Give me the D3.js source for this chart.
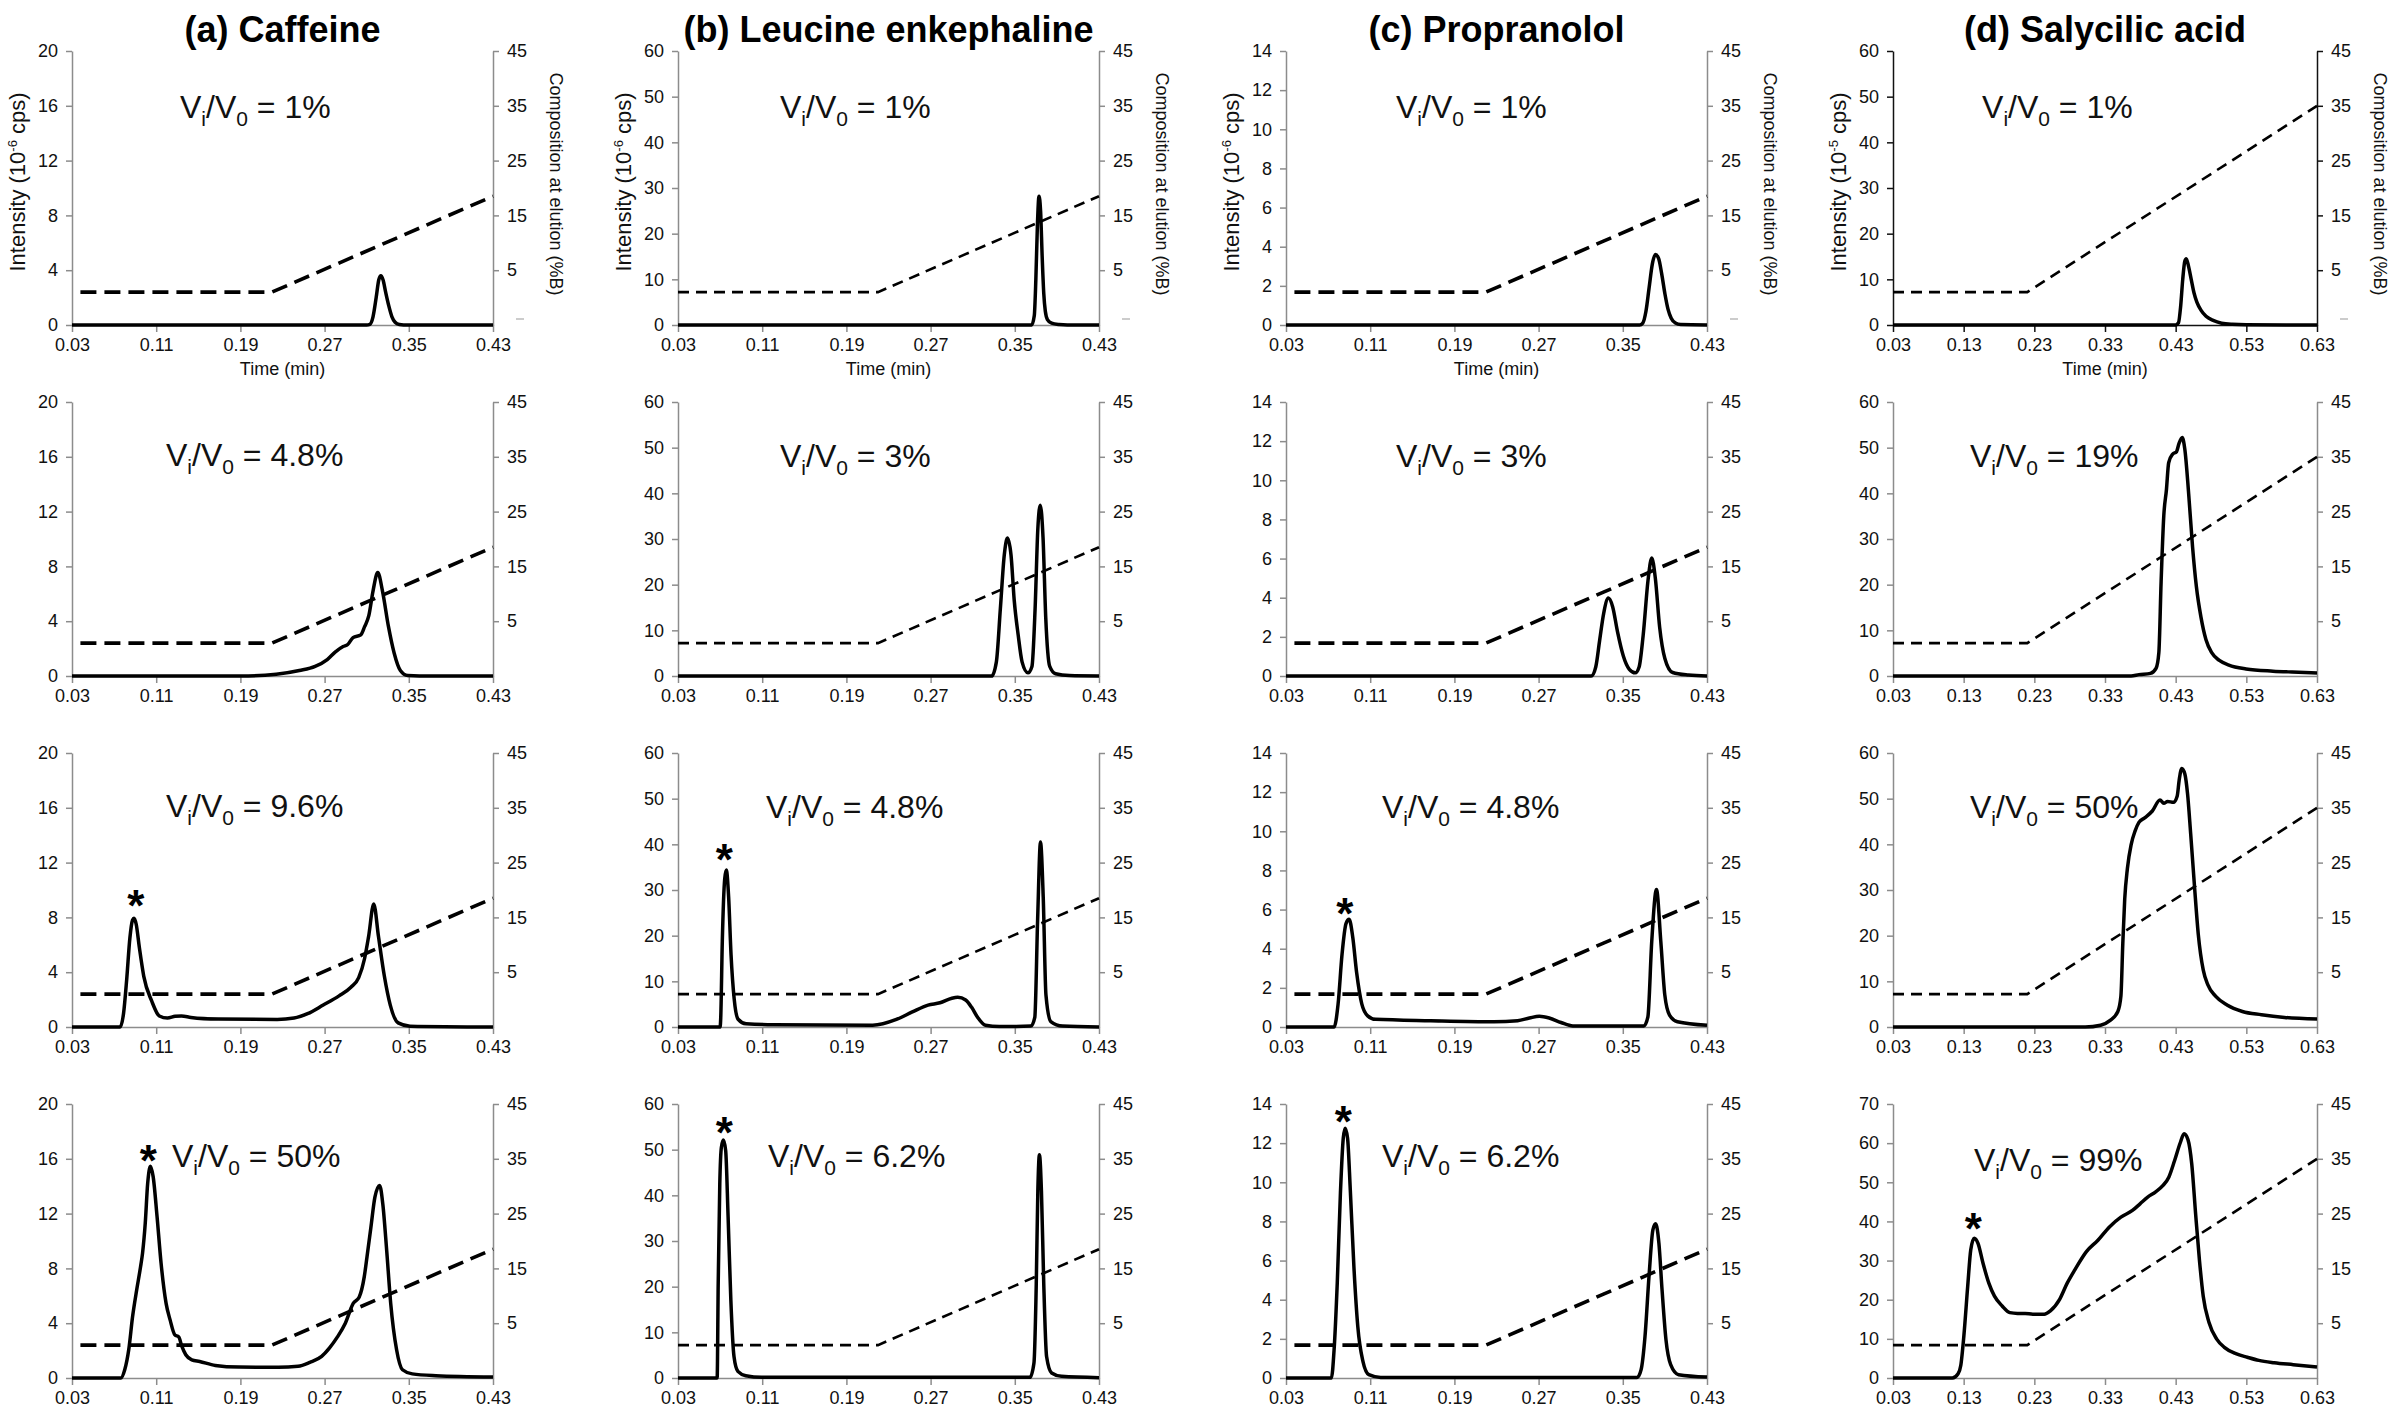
<!DOCTYPE html>
<html>
<head>
<meta charset="utf-8">
<script src="https://cdn.jsdelivr.net/npm/d3@7"></script>
<style>
body { margin: 0; background: #fff; }
svg { display: block; font-family: "Liberation Sans", Arial, sans-serif; }
.axis text { font-size: 18px; fill: #111; }
.axis line, .axis path { stroke: #8c8c8c; stroke-width: 1.5; }
.axis.dark line, .axis.dark path { stroke: #111; }
</style>
</head>
<body>
<svg id="chart" width="2400" height="1411"></svg>
<script>
// ticks
const timeTicks = [0.03, 0.11, 0.19, 0.27, 0.35, 0.43];
const timeTicksSal = [0.03, 0.13, 0.23, 0.33, 0.43, 0.53, 0.63];
const compositionTicks = [5, 15, 25, 35, 45];
const caffeineTicks = [0, 4, 8, 12, 16, 20];
const leucineTicks = [0, 10, 20, 30, 40, 50, 60];
const propranololTicks = [0, 2, 4, 6, 8, 10, 12, 14];
const salicylicTicks = [0, 10, 20, 30, 40, 50, 60];
const salicylicTicks99 = [0, 10, 20, 30, 40, 50, 60, 70];

const titles = ["(a) Caffeine", "(b) Leucine enkephaline", "(c) Propranolol", "(d) Salycilic acid"];
const unitExponent = ["-6", "-6", "-6", "-5"];

// Vi/V0 values
const ratioCaffeine = ["1%", "4.8%", "9.6%", "50%"];
const ratioLeucine = ["1%", "3%", "4.8%", "6.2%"];
const ratioPropranolol = ["1%", "3%", "4.8%", "6.2%"];
const ratioSalicylic = ["1%", "19%", "50%", "99%"];

// where the Vi/V0 text sits (time, intensity)
const ratioAtCaffeine = [[0.1326, 15.1], [0.1193, 15.3], [0.1193, 15.3], [0.125, 15.4]];
const ratioAtLeucine = [[0.1269, 45.3], [0.1269, 45.8], [0.1136, 45.8], [0.1155, 46.2]];
const ratioAtPropranolol = [[0.1345, 10.6], [0.1345, 10.7], [0.1212, 10.7], [0.1212, 10.8]];
const ratioAtSalicylic = [[0.156, 45.3], [0.139, 45.8], [0.139, 45.8], [0.1446, 53]];

// the * over the injection peak
const starCaffeine = [null, null, [0.0907, 9.56], [0.1026, 16.6]];
const starLeucine = [null, null, [0.074, 38.8], [0.0739, 55.8]];
const starPropranolol = [null, null, [0.0859, 6.3], [0.0844, 13.6]];
const starSalicylic = [null, null, null, [0.1438, 40.7]];

// gradient composition (%B)
const gradientCaffeine = [[0.038, 1], [0.22, 1], [0.43, 18.5]];
const gradientLeucine = [[0.03, 1], [0.22, 1], [0.43, 18.5]];
const gradientPropranolol = [[0.038, 1], [0.22, 1], [0.43, 18.5]];
const gradientSalicylic = [[0.03, 1], [0.22, 1], [0.63, 35]];

// chromatograms [time, intensity]
const caffeine1 = [[0.03,0],[0.31,0],[0.313,0.05],[0.316,0.6],[0.319,2.0],[0.3215,3.3],[0.3235,3.6],[0.3255,3.3],[0.328,2.4],[0.331,1.4],[0.334,0.6],[0.337,0.2],[0.341,0.03],[0.345,0],[0.43,0]];
const caffeine2 = [[0.03,0],[0.19,0],[0.224,0.13],[0.246,0.4],[0.261,0.7],[0.2725,1.2],[0.28,1.75],[0.2876,2.15],[0.292,2.3],[0.297,2.8],[0.3044,3.0],[0.308,3.6],[0.312,4.4],[0.316,6.2],[0.3205,7.56],[0.325,6.2],[0.3307,3.6],[0.336,1.7],[0.342,0.4],[0.349,0.03],[0.36,0],[0.43,0]];
const caffeine3 = [[0.03,0],[0.0757,0],[0.079,1.0],[0.082,3.5],[0.085,6.5],[0.0875,7.8],[0.0889,7.94],[0.091,7.5],[0.094,5.8],[0.0982,3.7],[0.1057,1.9],[0.113,0.8],[0.1207,0.65],[0.128,0.78],[0.134,0.8],[0.143,0.7],[0.169,0.58],[0.225,0.55],[0.241,0.65],[0.2538,0.97],[0.2687,1.6],[0.2837,2.27],[0.295,2.9],[0.3024,3.6],[0.308,5.0],[0.3118,6.6],[0.3167,8.98],[0.3212,6.6],[0.3268,3.7],[0.3324,1.6],[0.3399,0.3],[0.3512,0.06],[0.43,0]];
const caffeine4 = [[0.03,0],[0.0764,0],[0.0801,0.6],[0.0839,2.06],[0.0876,4.5],[0.0914,6.4],[0.0951,8.1],[0.097,9.1],[0.0996,11.3],[0.1019,14.2],[0.1045,15.45],[0.1071,14.7],[0.1108,11.8],[0.1146,8.4],[0.1194,5.45],[0.1232,4.24],[0.1277,3.15],[0.1314,3.0],[0.1344,2.3],[0.1381,1.7],[0.1438,1.33],[0.1513,1.21],[0.1662,0.92],[0.1887,0.8],[0.2261,0.78],[0.2448,0.85],[0.256,1.14],[0.2672,1.58],[0.2747,2.2],[0.2822,3.0],[0.2897,4.0],[0.2972,5.45],[0.3028,5.9],[0.3077,7.4],[0.3103,8.85],[0.314,11.0],[0.3178,13.2],[0.3223,14.06],[0.3253,12.7],[0.329,9.3],[0.3328,5.45],[0.3384,2.06],[0.344,0.6],[0.3533,0.3],[0.3758,0.17],[0.43,0.07]];

const leucine1 = [[0.03,0],[0.366,0],[0.3685,2],[0.370,10],[0.3715,22],[0.373,28.2],[0.3745,25],[0.376,15],[0.3775,7],[0.379,3],[0.381,1.2],[0.385,0.4],[0.392,0.1],[0.40,0],[0.43,0]];
const leucine2 = [[0.03,0],[0.328,0],[0.3325,3.1],[0.3363,14.8],[0.34,26.5],[0.343,30.2],[0.3464,26.5],[0.3494,16.7],[0.3532,9],[0.3569,3.1],[0.3625,0.7],[0.3663,2.1],[0.3693,14.8],[0.3719,32.3],[0.3742,37.4],[0.3768,30.4],[0.3794,12.8],[0.3832,2.1],[0.3888,0.5],[0.4019,0.1],[0.43,0]];
const leucine3 = [[0.03,0],[0.07,0],[0.0706,2],[0.0721,18.8],[0.0744,32.5],[0.0759,34.4],[0.0781,28.5],[0.0804,15.8],[0.0834,6.1],[0.0871,1.7],[0.0947,0.7],[0.121,0.5],[0.215,0.4],[0.2375,1.66],[0.2526,3.3],[0.2676,4.8],[0.2789,5.3],[0.2902,6.3],[0.2958,6.5],[0.3033,5.9],[0.309,4.3],[0.3146,2.15],[0.3221,0.4],[0.3353,0.1],[0.3653,0.2],[0.369,2.1],[0.3717,23.6],[0.3744,40.5],[0.377,28.5],[0.3796,7],[0.3842,1.2],[0.3954,0.2],[0.43,0]];
const leucine4 = [[0.03,0],[0.0672,0],[0.0682,20.7],[0.0697,42.5],[0.0712,50.5],[0.0731,52.1],[0.0753,49.8],[0.0776,35.3],[0.0802,17.1],[0.0832,4.7],[0.0869,1.45],[0.0944,0.5],[0.1095,0.15],[0.3644,0.15],[0.3682,3.3],[0.3704,20.7],[0.3719,41.1],[0.3734,48.9],[0.3753,41],[0.3775,20.7],[0.3802,4.7],[0.385,1.1],[0.3944,0.36],[0.43,0.07]];

const propranolol1 = [[0.03,0],[0.366,0],[0.369,0.1],[0.372,0.7],[0.375,1.9],[0.378,3.1],[0.381,3.6],[0.384,3.4],[0.387,2.6],[0.39,1.6],[0.393,0.8],[0.396,0.35],[0.40,0.1],[0.405,0.02],[0.43,0]];
const propranolol2 = [[0.03,0],[0.32,0],[0.3243,0.46],[0.328,1.82],[0.3318,3.19],[0.3363,3.98],[0.3404,3.53],[0.3449,2.28],[0.3505,1.02],[0.3562,0.34],[0.3618,0.16],[0.3655,0.46],[0.3693,2.05],[0.3742,5.0],[0.3775,6.03],[0.3809,5.0],[0.385,2.5],[0.3899,0.91],[0.3974,0.18],[0.4124,0.05],[0.43,0]];
const propranolol3 = [[0.03,0],[0.0757,0],[0.0795,1.18],[0.0832,3.69],[0.087,5.28],[0.09,5.5],[0.0934,4.6],[0.0971,2.78],[0.102,1.18],[0.1076,0.57],[0.1151,0.39],[0.1676,0.32],[0.2276,0.27],[0.2501,0.32],[0.2613,0.46],[0.2707,0.55],[0.2801,0.46],[0.2913,0.23],[0.3026,0.05],[0.37,0.05],[0.3738,0.5],[0.3775,4.37],[0.382,7.03],[0.3861,4.37],[0.3899,1.64],[0.3944,0.61],[0.4019,0.27],[0.43,0.09]];
const propranolol4 = [[0.03,0],[0.0731,0],[0.0757,1.45],[0.0787,4.85],[0.0817,9.44],[0.0844,12.25],[0.0862,12.76],[0.0885,12.25],[0.0911,9.6],[0.0945,5.7],[0.0982,2.64],[0.1031,0.85],[0.1087,0.17],[0.12,0.03],[0.3636,0.03],[0.3674,0.43],[0.3711,2.13],[0.3749,5.19],[0.3786,7.57],[0.3812,7.88],[0.3843,6.89],[0.3873,4.5],[0.391,1.96],[0.3955,0.68],[0.403,0.17],[0.43,0.05]];

const salicylic1 = [[0.03,0],[0.43,0],[0.434,0.5],[0.437,4],[0.44,10],[0.443,14],[0.445,14.5],[0.448,13],[0.452,10],[0.456,7],[0.46,5],[0.466,3.2],[0.473,1.9],[0.483,1.0],[0.495,0.4],[0.51,0.15],[0.53,0.05],[0.63,0]];
const salicylic2 = [[0.03,0],[0.367,0],[0.378,0.3],[0.3942,0.58],[0.4024,1.74],[0.4062,5.1],[0.4094,20.6],[0.4132,35.1],[0.417,40.9],[0.4201,46.7],[0.4258,48.6],[0.4311,49.1],[0.4349,51.0],[0.4393,52.2],[0.443,49.6],[0.4484,39.9],[0.4539,28.3],[0.4593,19.6],[0.4658,12.9],[0.4728,8.0],[0.481,5.1],[0.4918,3.4],[0.5053,2.4],[0.5297,1.55],[0.5677,1.06],[0.5948,0.87],[0.63,0.68]];
const salicylic3 = [[0.03,0],[0.302,0],[0.3238,0.4],[0.3373,1.45],[0.3482,3.4],[0.3525,6.75],[0.3552,18.3],[0.3579,28],[0.3617,34.7],[0.3671,40],[0.3725,42.9],[0.378,44.8],[0.3861,45.8],[0.397,47.3],[0.4078,49.7],[0.4132,49],[0.4186,49.4],[0.4268,49.2],[0.4322,50.6],[0.4349,54],[0.4387,56.6],[0.443,55.4],[0.4468,51.1],[0.4512,42.4],[0.4566,30.9],[0.462,20.3],[0.469,12.5],[0.4756,9.2],[0.4864,6.75],[0.5027,4.8],[0.5244,3.4],[0.5514,2.7],[0.584,2.1],[0.63,1.74]];
const salicylic4 = [[0.03,0],[0.114,0],[0.1221,1.1],[0.1259,3.2],[0.1303,10.8],[0.1357,23.4],[0.14,32.7],[0.1449,35.7],[0.1503,34.4],[0.1574,29.3],[0.1655,24.3],[0.1736,20.9],[0.1845,18.4],[0.1953,16.7],[0.2062,16.5],[0.217,16.5],[0.2278,16.3],[0.2441,16.3],[0.2523,17.1],[0.2658,20.1],[0.2767,24.3],[0.2875,27.7],[0.3037,32.3],[0.32,35.2],[0.3363,38.6],[0.3525,41.1],[0.3688,42.8],[0.3796,44.5],[0.3904,46.2],[0.4013,47.5],[0.4121,49.2],[0.4203,51.3],[0.4284,55.5],[0.4365,60.1],[0.4419,62.4],[0.4474,60.9],[0.4528,54.6],[0.4582,42],[0.4636,30.2],[0.469,20.9],[0.4772,14.2],[0.4881,9.95],[0.4989,7.84],[0.5152,6.2],[0.5314,5.3],[0.5477,4.5],[0.5694,3.9],[0.5965,3.4],[0.63,2.8]];

// layout
const colX = [72, 678, 1286, 1893];
const colW = [421, 421, 421, 424];
const rowY = [51, 402, 753, 1104];
const plotH = 274;

var compounds = [
	{ traces: [caffeine1, caffeine2, caffeine3, caffeine4], ticks: [caffeineTicks, caffeineTicks, caffeineTicks, caffeineTicks],
	  time: timeTicks, ratio: ratioCaffeine, ratioAt: ratioAtCaffeine, star: starCaffeine, gradient: gradientCaffeine, thick: true },
	{ traces: [leucine1, leucine2, leucine3, leucine4], ticks: [leucineTicks, leucineTicks, leucineTicks, leucineTicks],
	  time: timeTicks, ratio: ratioLeucine, ratioAt: ratioAtLeucine, star: starLeucine, gradient: gradientLeucine, thick: false },
	{ traces: [propranolol1, propranolol2, propranolol3, propranolol4], ticks: [propranololTicks, propranololTicks, propranololTicks, propranololTicks],
	  time: timeTicks, ratio: ratioPropranolol, ratioAt: ratioAtPropranolol, star: starPropranolol, gradient: gradientPropranolol, thick: true },
	{ traces: [salicylic1, salicylic2, salicylic3, salicylic4], ticks: [salicylicTicks, salicylicTicks, salicylicTicks, salicylicTicks99],
	  time: timeTicksSal, ratio: ratioSalicylic, ratioAt: ratioAtSalicylic, star: starSalicylic, gradient: gradientSalicylic, thick: false }
];

var svg = d3.select("#chart");
svg.append("rect").attr("width", 2400).attr("height", 1411).attr("fill", "#fff");

function drawPanel(c, r)
{
	var cmp = compounds[c];
	var w = colW[c], h = plotH;
	var ticks = cmp.ticks[r];
	var time = cmp.time;

	var x = d3.scaleLinear().domain([time[0], time[time.length - 1]]).range([0, w]);
	var y = d3.scaleLinear().domain([0, ticks[ticks.length - 1]]).range([h, 0]);
	var yB = d3.scaleLinear().domain([-5, 45]).range([h, 0]);

	var g = svg.append("g").attr("transform", "translate(" + colX[c] + "," + rowY[r] + ")");
	var dark = (c == 3 && r == 0) ? " dark" : "";

	// axes
	g.append("g")
		.attr("class", "axis" + dark)
		.attr("transform", "translate(0," + h + ")")
		.call(d3.axisBottom(x).tickValues(time).tickSize(7).tickSizeOuter(0).tickPadding(6).tickFormat(d3.format(".2f")));

	g.append("g")
		.attr("class", "axis" + dark)
		.call(d3.axisLeft(y).tickValues(ticks).tickSize(6).tickSizeOuter(0).tickPadding(8).tickFormat(d3.format("d")));

	g.append("g")
		.attr("class", "axis" + dark)
		.attr("transform", "translate(" + w + ",0)")
		.call(d3.axisRight(yB).tickValues(compositionTicks).tickSize(6).tickSizeOuter(0).tickPadding(8).tickFormat(d3.format("d")));

	// gradient (dashed)
	var gline = d3.line().x(function(d) { return x(d[0]); }).y(function(d) { return yB(d[1]); });
	g.append("path")
		.datum(cmp.gradient)
		.attr("d", gline)
		.attr("fill", "none")
		.attr("stroke", "#000")
		.attr("stroke-width", cmp.thick ? 3.6 : 2.6)
		.attr("stroke-dasharray", cmp.thick ? "16,8" : "11,7");

	// chromatogram
	var line = d3.line()
		.curve(d3.curveMonotoneX)
		.x(function(d) { return x(d[0]); })
		.y(function(d) { return y(d[1]); });
	g.append("path")
		.datum(cmp.traces[r])
		.attr("d", line)
		.attr("fill", "none")
		.attr("stroke", "#000")
		.attr("stroke-width", 3.5)
		.attr("stroke-linejoin", "round");

	// Vi/V0 = ..
	var pos = cmp.ratioAt[r];
	var t = g.append("text")
		.attr("x", x(pos[0]))
		.attr("y", y(pos[1]))
		.attr("font-size", 32)
		.attr("fill", "#111")
		.style("white-space", "pre");
	t.append("tspan").text("V");
	t.append("tspan").attr("font-size", 21).attr("dy", 8).text("i");
	t.append("tspan").attr("dy", -8).text("/V");
	t.append("tspan").attr("font-size", 21).attr("dy", 8).text("0");
	t.append("tspan").attr("dy", -8).text(" = " + cmp.ratio[r]);

	// injection peak marker
	var st = cmp.star[r];
	if (st)
	{
		g.append("text")
			.attr("x", x(st[0]))
			.attr("y", y(st[1]))
			.attr("dy", "0.57em")
			.attr("text-anchor", "middle")
			.attr("font-size", 44)
			.attr("font-weight", "bold")
			.text("*");
	}

	if (r == 0)
	{
		// titre
		g.append("text")
			.attr("x", w / 2)
			.attr("y", -9)
			.attr("text-anchor", "middle")
			.attr("font-size", 36)
			.attr("font-weight", "bold")
			.text(titles[c]);

		g.append("text")
			.attr("x", w / 2)
			.attr("y", h + 50)
			.attr("text-anchor", "middle")
			.attr("font-size", 18)
			.attr("fill", "#111")
			.text("Time (min)");

		var yl = g.append("text")
			.attr("transform", "translate(-47," + (h / 2 - 6) + ") rotate(-90)")
			.attr("text-anchor", "middle")
			.attr("font-size", 22)
			.attr("fill", "#111")
			.style("white-space", "pre");
		yl.append("tspan").text("Intensity (10");
		yl.append("tspan").attr("font-size", 13).attr("dy", -8).text(unitExponent[c]);
		yl.append("tspan").attr("dy", 8).text(" cps)");

		g.append("text")
			.attr("transform", "translate(" + (w + 57) + "," + (h / 2 - 4) + ") rotate(90)")
			.attr("text-anchor", "middle")
			.attr("font-size", 18)
			.attr("fill", "#111")
			.text("Composition at elution (%B)");

		// petit trait gris sous l'axe droit
		g.append("line")
			.attr("x1", w + 23).attr("x2", w + 31)
			.attr("y1", h - 6).attr("y2", h - 6)
			.attr("stroke", "#bbb")
			.attr("stroke-width", 1.5);
	}
}

for (var c = 0; c < 4; c++)
	for (var r = 0; r < 4; r++)
		drawPanel(c, r);
</script>
</body>
</html>
